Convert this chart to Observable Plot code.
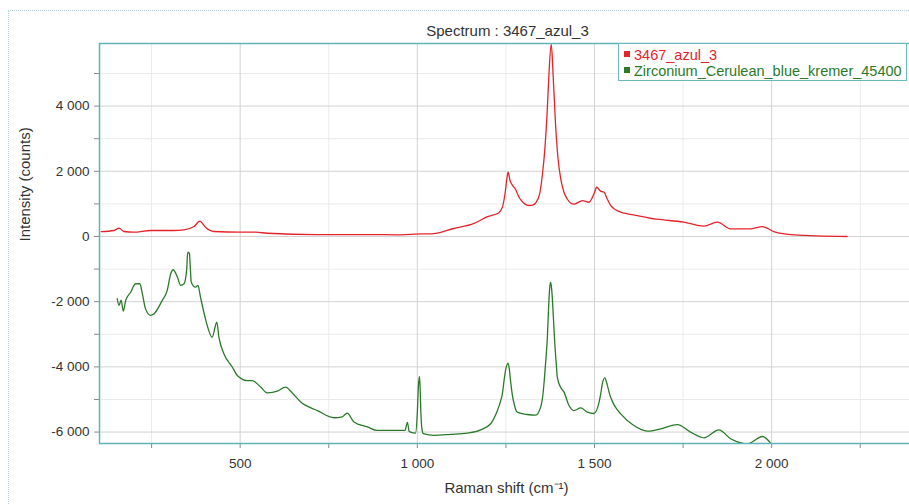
<!DOCTYPE html>
<html>
<head>
<meta charset="utf-8">
<script src="https://cdn.jsdelivr.net/npm/d3@7"></script>
<script src="https://cdn.jsdelivr.net/npm/@observablehq/plot@0.6"></script>
<style>
  html, body { margin: 0; padding: 0; background: #fff; }
  #wrap { position: relative; width: 909px; height: 504px; overflow: hidden; font-family: "Liberation Sans", Arial, sans-serif; }
  #pageborder { position: absolute; left: 8px; top: 10px; right: 0; bottom: 0; border-top: 1px dotted #b9d3dc; border-left: 1px dotted #b9d3dc; pointer-events: none; }
  #legend { position: absolute; left: 618px; top: 43px; width: 289px; height: 38px; border: 1px solid #6bb8be; background: #fff; font-size: 14.5px; box-sizing: border-box; }
  .item { position: absolute; left: 5px; white-space: nowrap; line-height: 16px; }
  .sw { display: inline-block; width: 6px; height: 6px; margin-right: 4px; vertical-align: 3px; }
</style>
</head>
<body>
<div id="wrap">
  <div id="pageborder"></div>
  <div id="chart"></div>
  <div id="legend"></div>
</div>
<script>
const seriesNames = ["3467_azul_3", "Zirconium_Cerulean_blue_kremer_45400"];
const seriesColors = ["#e3242b", "#2a7a2a"];

const redShift = [108,144,158,172,200,247,313,341,370,386,402,426,501,544,577,718,859,953,1009,1038,1103,1160,1198,1230,1240,1248,1253,1256,1262,1270,1277,1285,1292,1303,1315,1325,1334,1345,1353,1360,1367,1372,1378,1383,1390,1397,1405,1414,1423,1442,1466,1484,1500,1506,1516,1527,1536,1546,1574,1593,1621,1658,1677,1752,1809,1847,1884,1941,1974,2006,2063,2213];
const redIntensity = [150,184,255,153,132,184,184,205,307,470,285,153,132,132,100,60,60,50,80,80,245,400,610,730,900,1350,1800,1970,1700,1550,1450,1250,1120,1000,950,960,1030,1300,1900,2700,3950,5100,5900,5000,3450,2400,1750,1350,1150,990,1100,1050,1350,1510,1400,1355,1150,950,745,695,640,560,530,440,315,440,235,235,305,150,50,0];

const greenShift = [153,158,164,170,177,191,205,217,224,233,247,257,280,294,304,311,323,332,341,349,351,353,357,359,362,374,381,388,402,421,434,440,454,478,492,520,534,558,577,605,628,647,671,718,765,788,802,821,859,887,925,953,965,972,977,981,995,1000,1003,1006,1008,1010,1013,1017,1047,1094,1141,1179,1207,1226,1235,1240,1245,1249,1256,1260,1263,1268,1273,1282,1310,1334,1348,1355,1359,1364,1367,1370,1373,1376,1379,1381,1385,1388,1392,1395,1404,1414,1428,1442,1461,1480,1498,1513,1518,1522,1529,1536,1543,1550,1560,1574,1611,1649,1687,1734,1771,1809,1851,1884,1931,1974,1997];
const greenIntensity = [-1910,-2115,-1950,-2290,-1960,-1710,-1450,-1450,-1760,-2220,-2420,-2370,-1960,-1660,-1145,-1020,-1250,-1500,-1460,-1030,-600,-480,-530,-900,-1400,-1555,-1500,-1860,-2525,-3090,-2630,-3090,-3600,-4010,-4265,-4420,-4420,-4620,-4800,-4745,-4620,-4800,-5080,-5340,-5560,-5530,-5420,-5690,-5840,-5950,-5950,-5950,-5950,-5700,-5980,-6000,-6030,-5400,-4600,-4295,-4700,-5400,-5900,-6050,-6100,-6070,-6030,-5930,-5745,-5340,-5050,-4825,-4400,-4110,-3885,-4100,-4420,-4850,-5130,-5390,-5460,-5480,-5235,-4800,-4315,-3600,-3090,-2300,-1655,-1400,-1600,-1900,-2700,-3290,-3900,-4315,-4620,-4775,-5185,-5340,-5255,-5390,-5430,-5080,-4800,-4520,-4335,-4550,-4850,-5050,-5250,-5440,-5800,-5970,-5900,-5770,-6000,-6175,-5930,-6205,-6360,-6135,-6340];

const xMajorTicks = [500, 1000, 1500, 2000];
const xMinorTicks = [250, 750, 1250, 1750, 2250];
const yMajorTicks = [-6000, -4000, -2000, 0, 2000, 4000];
const yMinorTicks = [-5000, -3000, -1000, 1000, 3000, 5000];

const titleText = "Spectrum : 3467_azul_3";
const xLabel = "Raman shift (cm\u207B\u00B9)";
const yLabel = "Intensity (counts)";

const redData = redShift.map((s, i) => ({shift: s, value: redIntensity[i]}));
const greenData = greenShift.map((s, i) => ({shift: s, value: greenIntensity[i]}));

const fmt = d3.formatLocale({decimal: ".", thousands: " ", grouping: [3], currency: ["", ""], minus: "-"}).format(",d");

const xDomain = [103, 2389];
const yDomain = [-6350, 5920];
const frameColor = "#5fb2b9";

const chart = Plot.plot({
  width: 909,
  height: 504,
  marginLeft: 99,
  marginRight: 0,
  marginTop: 43,
  marginBottom: 61,
  style: {fontFamily: "'Liberation Sans', Arial, sans-serif", fontSize: "13.5px", color: "#333", background: "transparent"},
  x: {domain: xDomain},
  y: {domain: yDomain},
  marks: [
    Plot.gridX(xMinorTicks, {stroke: "#ebebeb", strokeOpacity: 1}),
    Plot.gridY(yMinorTicks, {stroke: "#ebebeb", strokeOpacity: 1}),
    Plot.gridX(xMajorTicks, {stroke: "#d2d2d2", strokeOpacity: 1}),
    Plot.gridY(yMajorTicks, {stroke: "#d2d2d2", strokeOpacity: 1}),
    Plot.axisX(xMajorTicks, {tickFormat: fmt, tickSize: 5, tickPadding: 10, label: null, stroke: "#8a8a8a", fill: "#333"}),
    Plot.axisX(xMinorTicks, {tickFormat: () => "", tickSize: 5, label: null, stroke: "#8a8a8a"}),
    Plot.axisY(yMajorTicks, {tickFormat: fmt, tickSize: 5, tickPadding: 5, label: null, stroke: "#8a8a8a", fill: "#333"}),
    Plot.axisY(yMinorTicks, {tickFormat: () => "", tickSize: 5, label: null, stroke: "#8a8a8a"}),
    Plot.line(redData, {x: "shift", y: "value", stroke: seriesColors[0], strokeWidth: 1.3, curve: "monotone-x", clip: true}),
    Plot.line(greenData, {x: "shift", y: "value", stroke: seriesColors[1], strokeWidth: 1.3, curve: "monotone-x", clip: true}),
    Plot.ruleX([xDomain[0]], {stroke: frameColor, strokeWidth: 1.5}),
    Plot.ruleY([yDomain[0], yDomain[1]], {stroke: frameColor, strokeWidth: 1.5}),
    Plot.text([titleText], {frameAnchor: "top", dy: -18, dx: 3, fill: "#333", fontSize: 15}),
    Plot.text([xLabel], {frameAnchor: "bottom", dy: 49, dx: 2, fill: "#333", fontSize: 15}),
    Plot.text([yLabel], {frameAnchor: "left", dx: -74, dy: -2, rotate: -90, fill: "#333", fontSize: 15})
  ]
});
document.getElementById("chart").appendChild(chart);

const legend = document.getElementById("legend");
seriesNames.forEach((name, i) => {
  const item = document.createElement("div");
  item.className = "item";
  item.style.top = (i === 0 ? 3 : 19) + "px";
  item.style.color = seriesColors[i];
  const sw = document.createElement("span");
  sw.className = "sw";
  sw.style.background = seriesColors[i];
  item.appendChild(sw);
  item.appendChild(document.createTextNode(name));
  legend.appendChild(item);
});
</script>
</body>
</html>
